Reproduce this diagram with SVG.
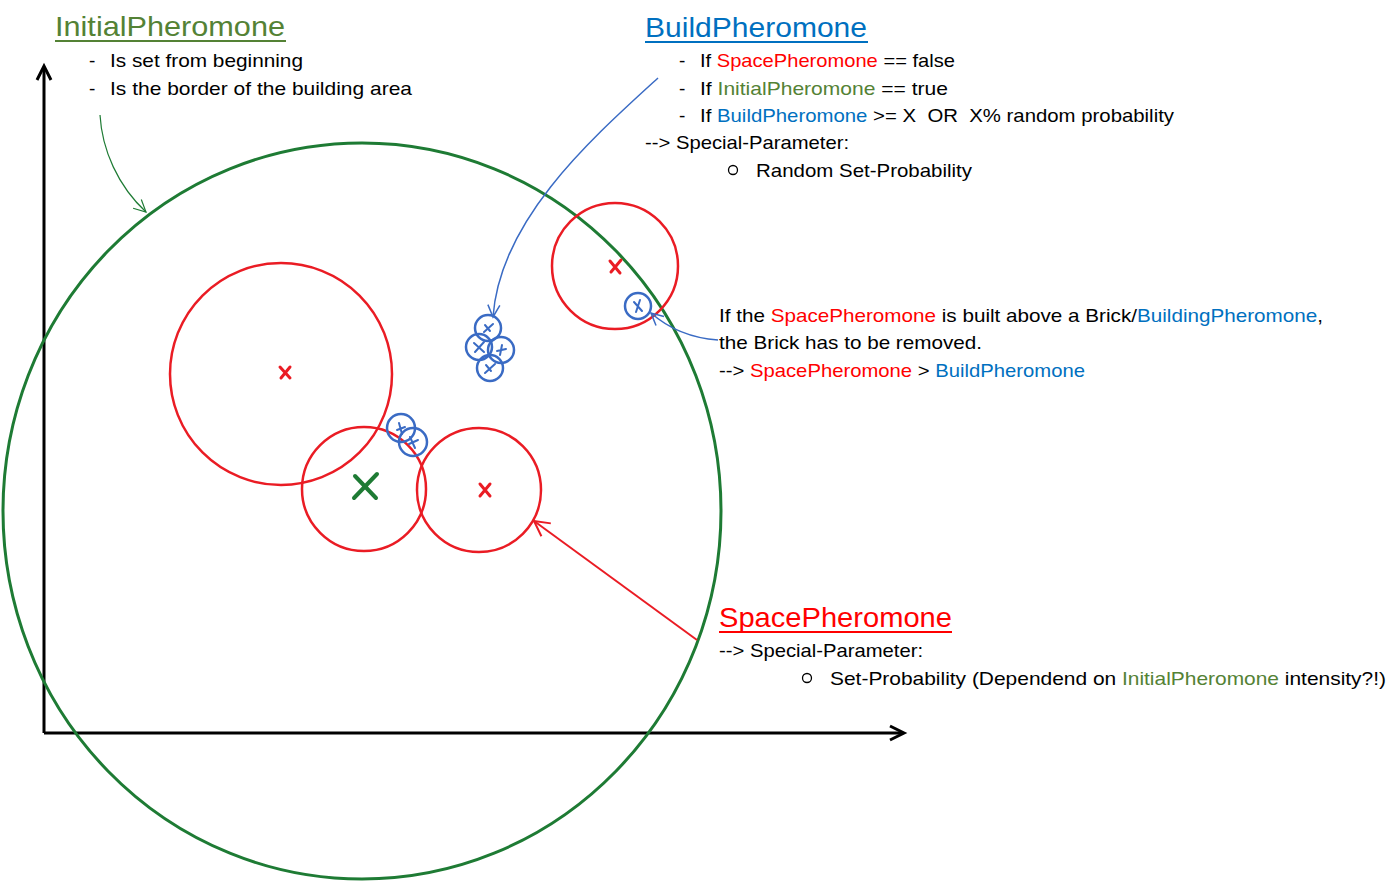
<svg xmlns="http://www.w3.org/2000/svg" width="1392" height="887" viewBox="0 0 1392 887">
<style>
text{font-family:"Liberation Sans",Arial,sans-serif;font-size:19px;fill:#000}
.t{font-size:28px}
.r{fill:#ff0000}.b{fill:#0070c0}.g{fill:#548235}
.rc{fill:none;stroke:#ea1c24;stroke-width:2.5}
.bc{fill:none;stroke:#3a6bc4;stroke-width:2.5}
.rx{stroke:#ea1c24;stroke-width:3;stroke-linecap:round}
.bx{stroke:#3a6bc4;stroke-width:2;stroke-linecap:round}
</style>
<defs>
<marker id="ab" markerWidth="16" markerHeight="16" refX="14" refY="8" orient="auto" markerUnits="userSpaceOnUse"><path d="M2,2 L14,8 L2,14" fill="none" stroke="#3a6bc4" stroke-width="1.5"/></marker>
<marker id="ag" markerWidth="16" markerHeight="16" refX="14" refY="8" orient="auto" markerUnits="userSpaceOnUse"><path d="M2,2 L14,8 L2,14" fill="none" stroke="#1e7b34" stroke-width="1.2"/></marker>
<marker id="ar" markerWidth="20" markerHeight="20" refX="18" refY="10" orient="auto" markerUnits="userSpaceOnUse"><path d="M3,2 L18,10 L3,18" fill="none" stroke="#ea1c24" stroke-width="2"/></marker>
</defs>
<rect width="1392" height="887" fill="#fff"/>

<g id="axes" fill="none" stroke="#000" stroke-width="3">
<path d="M44,733 V67"/><path d="M37,80 L44,66 L51,80"/>
<path d="M44,733 H903"/><path d="M890,726 L904,733 L890,740"/>
</g>

<g id="initial-area"><ellipse cx="362" cy="511" rx="359" ry="368" fill="none" stroke="#1e7b34" stroke-width="3"/></g>

<g id="space-1"><circle class="rc" cx="281" cy="374" r="111"/><path class="rx" d="M280,367 L290,378 M290,367 L281,378"/></g>
<g id="space-2"><circle class="rc" cx="364" cy="489" r="62"/><path d="M355,476 L376,498 M377,474 L354,498" stroke="#1e7b34" stroke-width="4" stroke-linecap="round"/></g>
<g id="space-3"><circle class="rc" cx="479" cy="490" r="62"/><path class="rx" d="M480,484 L490,496 M490,484 L480,496"/></g>
<g id="space-4"><circle class="rc" cx="615" cy="266" r="63"/><path class="rx" d="M610,261 L620,273 M621,260 L611,272"/></g>

<g id="build-cluster">
<circle class="bc" cx="488" cy="328" r="13"/><path class="bx" d="M484,332 L493,324 M485,325 L490,331"/>
<circle class="bc" cx="479" cy="347" r="13"/><path class="bx" d="M474,343 L484,352 M484,342 L475,352"/>
<circle class="bc" cx="501" cy="350" r="13"/><path class="bx" d="M497,351 L506,349 M502,345 L500,355"/>
<circle class="bc" cx="490" cy="368" r="13"/><path class="bx" d="M485,373 L495,364 M486,365 L491,371"/>
</g>
<g id="build-pair">
<circle class="bc" cx="401" cy="428" r="14"/><path class="bx" d="M399,423 L402,434 M397,430 L405,427"/>
<circle class="bc" cx="413" cy="442" r="14"/><path class="bx" d="M410,437 L415,448 M409,444 L418,440"/>
</g>
<g id="build-single"><circle class="bc" cx="638" cy="306" r="13"/><path class="bx" d="M634,302 L642,311 M640,300 L636,312"/></g>

<g id="connectors" fill="none">
<path d="M100,115 C102,150 118,186 146,212" stroke="#1e7b34" stroke-width="1.2" marker-end="url(#ag)"/>
<path d="M658,78 C590,140 500,220 493,317" stroke="#3a6bc4" stroke-width="1.5" marker-end="url(#ab)"/>
<path d="M718,340 C690,338 668,328 651,313" stroke="#3a6bc4" stroke-width="1.5" marker-end="url(#ab)"/>
<path d="M697,640 L534,521" stroke="#ea1c24" stroke-width="2" marker-end="url(#ar)"/>
</g>

<g id="initial-text">
<text class="t g" x="55" y="36" textLength="230" lengthAdjust="spacingAndGlyphs">InitialPheromone</text>
<line x1="55" y1="41" x2="286" y2="41" stroke="#548235" stroke-width="2"/>
<text x="89" y="67">-</text><text x="110" y="67" textLength="193" lengthAdjust="spacingAndGlyphs">Is set from beginning</text>
<text x="89" y="95">-</text><text x="110" y="95" textLength="302" lengthAdjust="spacingAndGlyphs">Is the border of the building area</text>
</g>

<g id="build-text">
<text class="t b" x="645" y="37" textLength="222" lengthAdjust="spacingAndGlyphs">BuildPheromone</text>
<line x1="645" y1="42" x2="868" y2="42" stroke="#0070c0" stroke-width="2"/>
<text x="679" y="67">-</text><text x="700" y="67" textLength="255" lengthAdjust="spacingAndGlyphs">If <tspan class="r">SpacePheromone</tspan> == false</text>
<text x="679" y="95">-</text><text x="700" y="95" textLength="248" lengthAdjust="spacingAndGlyphs">If <tspan class="g">InitialPheromone</tspan> == true</text>
<text x="679" y="122">-</text><text x="700" y="122" textLength="474" lengthAdjust="spacingAndGlyphs" xml:space="preserve">If <tspan class="b">BuildPheromone</tspan> &gt;= X  OR  X% random probability</text>
<text x="645" y="149" textLength="204" lengthAdjust="spacingAndGlyphs">--&gt; Special-Parameter:</text>
<circle cx="733" cy="170" r="4.5" fill="none" stroke="#000" stroke-width="1.3"/>
<text x="756" y="177" textLength="216" lengthAdjust="spacingAndGlyphs">Random Set-Probability</text>
</g>

<g id="remove-text">
<text x="719" y="322" textLength="604" lengthAdjust="spacingAndGlyphs">If the <tspan class="r">SpacePheromone</tspan> is built above a Brick/<tspan class="b">BuildingPheromone</tspan>,</text>
<text x="719" y="349" textLength="263" lengthAdjust="spacingAndGlyphs">the Brick has to be removed.</text>
<text x="719" y="377" textLength="366" lengthAdjust="spacingAndGlyphs">--&gt; <tspan class="r">SpacePheromone</tspan> &gt; <tspan class="b">BuildPheromone</tspan></text>
</g>

<g id="space-text">
<text class="t r" x="719" y="627" textLength="233" lengthAdjust="spacingAndGlyphs">SpacePheromone</text>
<line x1="719" y1="632" x2="952" y2="632" stroke="#ff0000" stroke-width="2"/>
<text x="719" y="657" textLength="204" lengthAdjust="spacingAndGlyphs">--&gt; Special-Parameter:</text>
<circle cx="807" cy="678" r="4.5" fill="none" stroke="#000" stroke-width="1.3"/>
<text x="830" y="685" textLength="556" lengthAdjust="spacingAndGlyphs">Set-Probability (Dependend on <tspan class="g">InitialPheromone</tspan> intensity?!)</text>
</g>
</svg>
